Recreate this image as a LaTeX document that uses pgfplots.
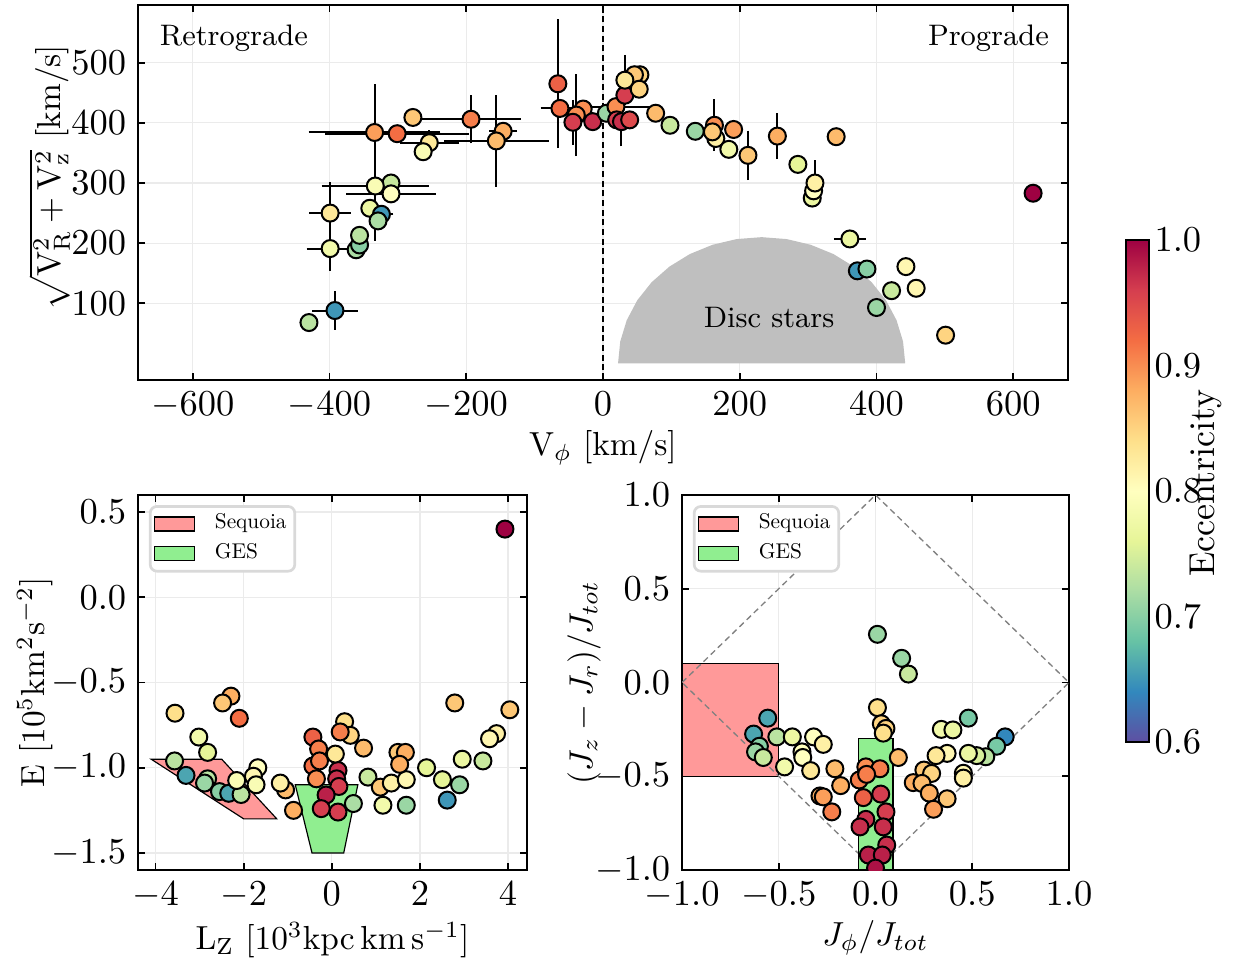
\documentclass[border=0pt]{standalone}
\usepackage{pgfplots}
\usepackage{pgfplotstable}
\pgfplotsset{compat=1.18}
\pgfplotsset{colormap={spectralr}{rgb255=(94,79,162) rgb255=(50,136,189) rgb255=(102,194,165) rgb255=(171,221,164) rgb255=(230,245,152) rgb255=(255,255,191) rgb255=(254,224,139) rgb255=(253,174,97) rgb255=(244,109,67) rgb255=(213,62,79) rgb255=(158,1,66)}}
\definecolor{seqred}{RGB}{255,153,153}
\definecolor{gesgreen}{RGB}{144,238,144}
\definecolor{discgray}{RGB}{191,191,191}
\newcommand{\tfont}{\fontsize{10.5}{12.6}\selectfont}
\newcommand{\afont}{\fontsize{8.9}{10.7}\selectfont}
\newcommand{\lt}[1]{\scalebox{0.64}{\fontsize{10}{12}\selectfont #1}}

\pgfplotstableread{
x y ex ey e
-430 68 0 0 0.73
-392 88 28 26 0.65
-399 191 29 31 0.78
-361 189 0 0 0.72
-356 197 0 0 0.70
-356 213 0 0 0.73
-399 250 25 45 0.83
-341 258 0 0 0.77
-324 248 12 0 0.65
-329 237 0 0 0.72
-310 300 0 0 0.74
-333 295 73 85 0.79
-310 282 60 0 0.80
-334 384 91 74 0.89
-301 382 100 0 0.92
-278 409 0 0 0.86
-254 367 38 15 0.83
-263 352 0 0 0.79
-193 406 67 34 0.91
-146 386 15 0 0.88
-156 370 71 70 0.87
-66 465 0 101 0.93
-63 424 23 0 0.92
-29 423 0 0 0.90
-39 413 0 62 0.90
-44 401 0 31 0.96
-15 402 0 0 0.97
5 416 0 0 0.71
19 427 47 0 0.90
32 446 0 0 0.96
54 480 0 0 0.85
46 480 0 0 0.86
53 456 0 0 0.85
32 471 0 36 0.83
20 405 0 0 0.96
27 402 0 35 0.97
39 405 0 0 0.95
77 416 0 0 0.87
98 396 0 0 0.74
135 386 0 0 0.71
163 396 0 37 0.90
165 374 0 0 0.82
160 385 0 0 0.86
191 389 0 0 0.89
184 356 0 0 0.78
212 346 0 35 0.86
255 378 0 32 0.88
341 377 0 0 0.87
285 331 0 0 0.76
306 275 0 0 0.77
308 287 0 0 0.80
310 300 0 32 0.82
629 283 5 0 1.00
361 207 18 0 0.77
372 154 0 0 0.65
386 157 0 0 0.70
443 161 0 0 0.81
422 121 0 0 0.74
458 125 0 0 0.81
400 93 0 0 0.71
501 47 0 0 0.85
}\toppts

\pgfplotstableread{
x y e
3.93 0.40 1.00
-3.56 -0.68 0.84
-2.29 -0.58 0.88
-2.48 -0.62 0.86
-2.10 -0.71 0.92
-3.02 -0.82 0.78
-2.82 -0.91 0.76
-3.57 -0.96 0.73
-3.31 -1.045 0.66
-2.82 -1.065 0.73
-2.89 -1.09 0.71
-2.55 -1.14 0.70
-2.34 -1.15 0.66
-2.06 -1.157 0.73
-2.16 -1.075 0.79
-1.68 -1.00 0.80
-1.78 -1.05 0.81
-1.72 -1.10 0.79
-1.05 -1.13 0.87
-1.17 -1.09 0.82
-0.87 -1.25 0.88
-0.43 -0.82 0.93
-0.30 -0.89 0.91
-0.43 -0.99 0.92
-0.28 -0.96 0.91
-0.35 -1.065 0.90
0.14 -1.016 0.97
0.11 -1.065 0.97
0.16 -1.11 0.96
-0.13 -1.16 0.98
0.49 -1.21 0.72
-0.24 -1.24 0.96
0.14 -1.26 0.96
0.08 -0.92 0.83
0.29 -0.73 0.84
0.42 -0.81 0.85
0.19 -0.79 0.91
0.72 -0.885 0.87
0.82 -1.055 0.74
1.10 -1.114 0.86
1.35 -1.09 0.82
1.69 -1.07 0.81
1.16 -1.22 0.78
1.69 -1.22 0.71
1.50 -0.91 0.86
1.67 -0.91 0.88
1.54 -0.98 0.88
2.15 -1.00 0.76
2.51 -1.07 0.76
2.90 -1.10 0.71
2.62 -1.19 0.65
2.96 -0.95 0.77
3.43 -0.96 0.74
3.74 -0.80 0.82
3.58 -0.83 0.81
2.79 -0.62 0.86
4.04 -0.66 0.86
}\lzpts

\pgfplotstableread{
x y e
0.01 0.257 0.71
0.135 0.129 0.71
0.17 0.045 0.74
0.01 -0.134 0.84
0.03 -0.22 0.85
0.054 -0.245 0.85
0.04 -0.27 0.84
-0.557 -0.19 0.66
-0.63 -0.275 0.66
-0.60 -0.34 0.70
-0.62 -0.37 0.71
-0.58 -0.40 0.74
-0.51 -0.29 0.73
-0.43 -0.29 0.77
-0.32 -0.29 0.80
-0.27 -0.33 0.82
-0.38 -0.37 0.80
-0.376 -0.40 0.80
-0.47 -0.45 0.78
-0.335 -0.47 0.83
-0.21 -0.46 0.87
-0.18 -0.55 0.88
-0.287 -0.605 0.88
-0.27 -0.61 0.89
-0.226 -0.69 0.91
-0.05 -0.45 0.90
0.023 -0.46 0.91
0.118 -0.40 0.87
-0.084 -0.52 0.91
-0.046 -0.49 0.91
-0.063 -0.614 0.93
0.027 -0.595 0.96
0.054 -0.69 0.96
-0.05 -0.73 0.97
-0.08 -0.77 0.97
0.04 -0.77 0.97
0.058 -0.867 0.97
-0.037 -0.92 0.98
0.035 -0.92 0.98
0.0 -0.99 0.99
0.48 -0.19 0.69
0.34 -0.25 0.78
0.40 -0.253 0.77
0.67 -0.29 0.64
0.626 -0.34 0.69
0.57 -0.396 0.73
0.523 -0.39 0.75
0.48 -0.378 0.77
0.37 -0.378 0.81
0.313 -0.39 0.83
0.454 -0.484 0.81
0.454 -0.51 0.82
0.25 -0.467 0.86
0.29 -0.485 0.85
0.195 -0.534 0.88
0.24 -0.538 0.87
0.278 -0.59 0.88
0.37 -0.62 0.86
0.30 -0.676 0.89
}\jpts

\pgfplotsset{
  myaxis/.style={
    scale only axis,
    colormap name=spectralr,
    point meta min=0.6, point meta max=1.0,
    tick align=inside,
    major tick length=2.1pt,
    every tick/.style={black, line width=0.5pt},
    axis line style={line width=0.6pt},
    grid=major,
    grid style={line width=0.35pt, black!8},
    tick label style={font=\tfont},
    label style={font=\tfont},
    clip marker paths=true,
  },
  myscatter/.style={scatter, only marks, mark=*, mark size=2.55pt, line width=0.6pt,
    scatter src=explicit, scatter/use mapped color={draw=black, fill=mapped color}, forget plot},
  mylegend/.style={
    legend style={at={(0.028,0.973)}, anchor=north west, draw=black!15, line width=0.8pt,
      rounded corners=2pt, fill=white, inner xsep=1pt, inner ysep=0.8pt,
      row sep=0pt, nodes={inner sep=1.45pt},
      /tikz/every odd column/.append style={column sep=4.6pt}},
    legend cell align=left,
    legend image code/.code={\draw[##1, line width=0.35pt, sharp corners] (0pt,-2.1pt) rectangle (12pt,2.1pt);},
  },
  onedec/.style={/pgf/number format/.cd, fixed, fixed zerofill, precision=1},
}

\begin{document}
\begin{tikzpicture}
\path[use as bounding box] (0pt,0pt) rectangle (371.4pt,288.9pt);

% ---------------- top panel ----------------
\begin{axis}[myaxis,
  at={(41.4pt,174.9pt)}, anchor=south west,
  width=279pt, height=112.5pt,
  xmin=-680, xmax=680, ymin=-27.5, ymax=596,
  xtick={-600,-400,-200,0,200,400,600}, ytick={100,200,300,400,500},
  xlabel={V$_\phi$ [km/s]},
  ylabel={$\sqrt{\mathrm{V_R^2+V_z^2}}$ [km/s]},
  every axis x label/.style={at={(axis description cs:0.5,-0.181)}, anchor=center},
  every axis y label/.style={at={(axis description cs:-0.095,0.54)}, anchor=center, rotate=90},
  colorbar,
  colorbar/width=6.9pt,
  colorbar style={
    at={(329.4pt,216.9pt)}, anchor=north west,
    scale only axis, width=6.9pt, height=150.6pt,
    grid=none, xtick=\empty,
    ytick={0.6,0.7,0.8,0.9,1.0},
    major tick length=0pt,
    yticklabel style={font=\tfont, xshift=-2pt, onedec},
    axis line style={line width=0.6pt},
  },
]
\addplot[fill=discgray, draw=none, forget plot] coordinates {
(442,0) (438.8,36.5) (429.3,71.8) (413.9,105) (392.9,135) (367.0,160.9) (337,181.9) (303.8,197.3) (268.5,206.8) (232,210)
(195.5,206.8) (160.2,197.3) (127,181.9) (97.0,160.9) (71.1,135) (50.1,105) (34.7,71.8) (25.2,36.5) (22,0)} -- cycle;
\addplot[black, line width=0.45pt, dash pattern=on 1.8pt off 1.1pt, forget plot] coordinates {(0,-27.5) (0,596)};
\addplot[only marks, mark=none, forget plot,
  error bars/.cd, x dir=both, x explicit, y dir=both, y explicit,
  error bar style={black, line width=0.6pt},
  error mark options={black, line width=0.6pt, mark size=1.1pt}]
  table[x=x, y=y, x error=ex, y error=ey] {\toppts};
\addplot[myscatter] table[x=x, y=y, meta=e] {\toppts};
\node[anchor=west, inner sep=0pt, font=\afont] at (axis cs:-649,541) {Retrograde};
\node[anchor=east, inner sep=0pt, font=\afont] at (axis cs:653,541) {Prograde};
\node[font=\afont] at (axis cs:243,76) {Disc stars};
\end{axis}

% colorbar label
\node[rotate=90, inner sep=0pt, font=\fontsize{10.8}{13}\selectfont] at (361.7pt,144pt) {Eccentricity};

% ---------------- bottom left ----------------
\begin{axis}[myaxis, mylegend,
  at={(41.4pt,27.9pt)}, anchor=south west,
  width=116.7pt, height=112.5pt,
  xmin=-4.4, xmax=4.43, ymin=-1.6, ymax=0.6,
  xtick={-4,-2,0,2,4}, ytick={-1.5,-1.0,-0.5,0.0,0.5},
  yticklabel style={onedec},
  xlabel={L$_\mathrm{Z}$ [$10^3$kpc$\,$km$\,$s$^{-1}$]},
  ylabel={E [$10^5$km$^2$s$^{-2}$]},
  every axis x label/.style={at={(axis description cs:0.5,-0.187)}, anchor=center},
  every axis y label/.style={at={(axis description cs:-0.265,0.5)}, anchor=center, rotate=90},
]
\addplot[fill=seqred, draw=black, line width=0.35pt] coordinates {(-4.1,-0.95) (-2.5,-0.95) (-1.25,-1.3) (-2.0,-1.3)} -- cycle;
\addlegendentry{\lt{Sequoia}}
\addplot[fill=gesgreen, draw=black, line width=0.35pt] coordinates {(-0.83,-1.1) (0.59,-1.1) (0.27,-1.5) (-0.45,-1.5)} -- cycle;
\addlegendentry{\lt{GES}}
\addplot[myscatter] table[x=x, y=y, meta=e] {\lzpts};
\end{axis}

% ---------------- bottom right ----------------
\begin{axis}[myaxis, mylegend,
  at={(204.6pt,27.9pt)}, anchor=south west,
  width=116.1pt, height=112.5pt,
  xmin=-1, xmax=1, ymin=-1, ymax=1,
  xtick={-1.0,-0.5,0.0,0.5,1.0}, ytick={-1.0,-0.5,0.0,0.5,1.0},
  xticklabel style={onedec}, yticklabel style={onedec},
  xlabel={$J_\phi/J_{tot}$},
  ylabel={$(J_z-J_r)/J_{tot}$},
  every axis x label/.style={at={(axis description cs:0.5,-0.181)}, anchor=center},
  every axis y label/.style={at={(axis description cs:-0.253,0.5)}, anchor=center, rotate=90},
]
\addplot[fill=seqred, draw=black, line width=0.35pt] coordinates {(-1,-0.5) (-0.5,-0.5) (-0.5,0.1) (-1,0.1)} -- cycle;
\addlegendentry{\lt{Sequoia}}
\addplot[gray, line width=0.4pt, dash pattern=on 1.8pt off 1.2pt, forget plot] coordinates {(-1,0) (0,1) (1,0) (0,-1) (-1,0)};
\addplot[fill=gesgreen, draw=black, line width=0.35pt] coordinates {(-0.09,-1) (0.09,-1) (0.09,-0.3) (-0.09,-0.3)} -- cycle;
\addlegendentry{\lt{GES}}
\addplot[myscatter] table[x=x, y=y, meta=e] {\jpts};
\end{axis}
\end{tikzpicture}
\end{document}
